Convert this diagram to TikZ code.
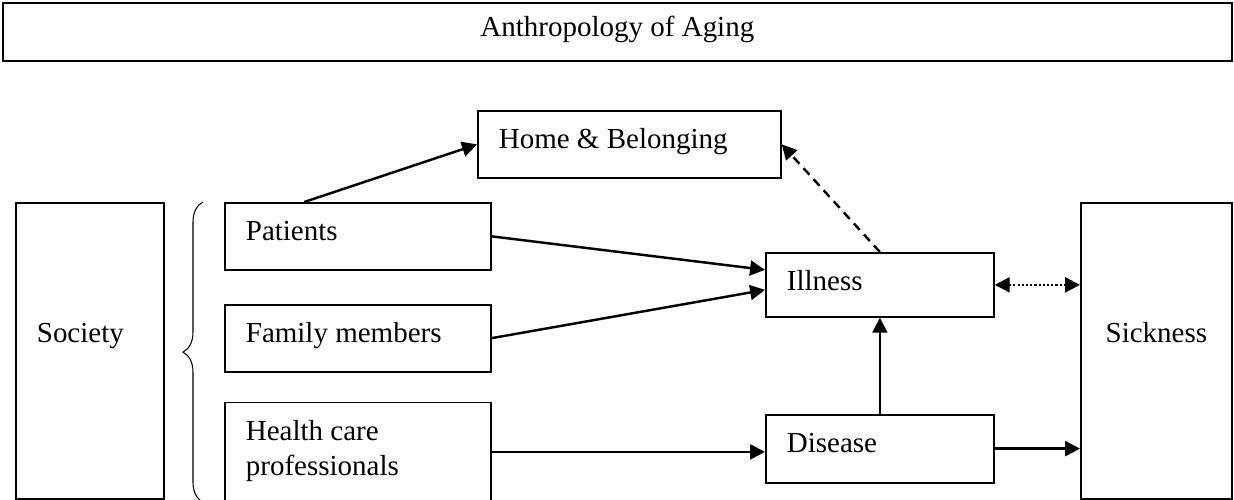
\documentclass[tikz,border=0pt]{standalone}
\usepackage{fontspec}
\setmainfont{Liberation Serif}
\usetikzlibrary{positioning}
\usetikzlibrary{calc}
\usetikzlibrary{arrows.meta}
\usetikzlibrary{decorations.pathreplacing}

\begin{document}
\begin{tikzpicture}[
  font=\fontsize{16.5pt}{20pt}\selectfont,
  box/.style={draw, line width=1pt, inner xsep=0.42cm, inner ysep=0pt, align=left, text height=0.76cm,
    execute at begin node={\spaceskip=0pt\xspaceskip=0pt\relax}},
  tallbox/.style={box, text height=2.8cm, text depth=3.12cm},
  arr/.style={line width=1.4pt, -{Triangle[length=8.5pt, width=8.5pt]}},
  groupbrace/.style={line width=0.6pt, decorate, decoration={brace, amplitude=0.4cm}}
]
\useasboundingbox (0, 0) rectangle (24.68, -10);

% Title
\node[box, anchor=north west, minimum width=24.58cm, text height=0.68cm, text depth=0.48cm] (title) at (0.04, -0.04) {Anthropology of Aging};

% Society
\node[tallbox, anchor=north west, text width=2.12cm] (society) at (0.3, -4.04) {Society};

% Groups
\node[box, anchor=north west, text width=4.48cm, text depth=0.58cm] (patients) at (4.48, -4.04) {Patients};
\node[box, text width=4.48cm, text depth=0.58cm, below=0.66cm of patients] (family) {Family members};
\node[box, text width=4.48cm, text depth=1.22cm, below=0.58cm of family] (health) {Health care\\professionals};
\draw[groupbrace] ([xshift=-0.42cm]health.south west) -- ([xshift=-0.42cm]patients.north west);

% Home & Belonging
\node[box, anchor=north west, text width=5.22cm, text depth=0.58cm] (home) at (9.54, -2.2) {Home \& Belonging};

% Illness and Disease
\node[box, anchor=north west, text width=3.72cm, text depth=0.52cm] (illness) at (15.3, -5.04) {Illness};
\node[box, text width=3.72cm, text depth=0.6cm, below=1.92cm of illness] (disease) {Disease};

% Sickness
\node[tallbox, anchor=north west, minimum width=3.02cm] (sickness) at (21.6, -4.04) {Sickness};

% Edges
\draw[arr] ($(patients.north west)!0.3!(patients.north east)$) -- (home.west);
\draw[arr] (patients.east) -- ([yshift=0.3cm]illness.west);
\draw[arr] (family.east) -- ([yshift=-0.1cm]illness.west);
\draw[arr] (health.east) -- (health.east -| disease.west);
\draw[arr] (disease.north) -- (illness.south);
\draw[arr, dash pattern=on 5pt off 3.5pt] (illness.north) -- (home.east);
\draw[arr, {Triangle[length=8.5pt, width=8.5pt]}-{Triangle[length=8.5pt, width=8.5pt]}, dash pattern=on 1.2pt off 1.2pt] (illness.east) -- (illness.east -| sickness.west);
\draw[arr] (disease.east) -- (disease.east -| sickness.west);
\end{tikzpicture}
\end{document}
